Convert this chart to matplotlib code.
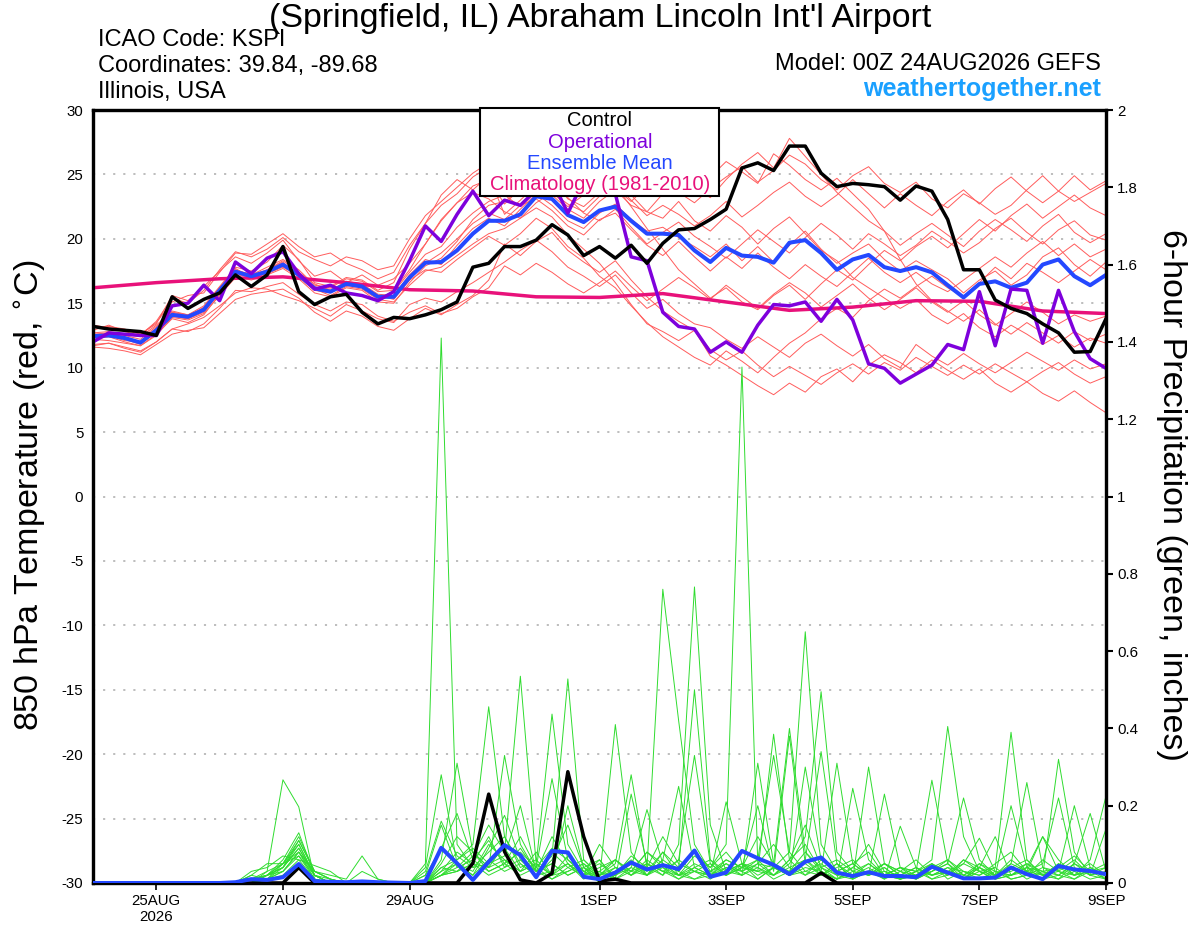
import matplotlib
matplotlib.use('Agg')
import matplotlib.pyplot as plt
import pandas as pd
from matplotlib.patches import Rectangle

plt.rcParams['font.family'] = ['Liberation Sans', 'DejaVu Sans']
plt.rcParams['axes.unicode_minus'] = False

# ---------------- data ----------------
times = pd.date_range('2026-08-24 00:00', periods=65, freq='6h')
clim_times = pd.date_range('2026-08-24 00:00', periods=17, freq='1D')

tick_dates = ['2026-08-25', '2026-08-27', '2026-08-29', '2026-09-01',
              '2026-09-03', '2026-09-05', '2026-09-07', '2026-09-09']
tick_labels = ['25AUG\n2026', '27AUG', '29AUG', '1SEP', '3SEP', '5SEP', '7SEP', '9SEP']
temp_ticks = [-30, -25, -20, -15, -10, -5, 0, 5, 10, 15, 20, 25, 30]
precip_ticks = [0, 0.2, 0.4, 0.6, 0.8, 1.0, 1.2, 1.4, 1.6, 1.8, 2.0]
precip_tick_labels = ['0', '0.2', '0.4', '0.6', '0.8', '1', '1.2', '1.4', '1.6', '1.8', '2']

control_temp = [13.2, 13.0, 12.9, 12.8, 12.5, 15.5, 14.6, 15.3, 15.8, 17.2, 16.3, 17.2, 19.4,
                15.9, 14.9, 15.5, 15.7, 14.3, 13.4, 13.9, 13.8, 14.1, 14.5, 15.1, 17.8, 18.1,
                19.4, 19.4, 19.9, 21.1, 20.3, 18.7, 19.4, 18.5, 19.5, 18.1, 19.65, 20.7, 20.8,
                21.5, 22.3, 25.5, 25.9, 25.3, 27.2, 27.2, 25.1, 24.05, 24.3, 24.2, 24.05, 23.0,
                24.1, 23.7, 21.5, 17.6, 17.6, 15.25, 14.6, 14.2, 13.4, 12.7, 11.2, 11.25, 13.8]
operational_temp = [12.0, 12.7, 12.6, 12.5, 12.5, 14.8, 15.0, 16.4, 15.2, 18.2, 17.3, 18.5, 19.0,
                    17.3, 16.1, 16.4, 15.8, 15.6, 15.2, 15.9, 18.3, 21.0, 19.8, 21.9, 23.7, 21.8,
                    23.0, 22.6, 23.8, 24.5, 22.0, 24.5, 24.0, 23.5, 18.6, 18.3, 14.3, 13.2, 13.0,
                    11.2, 12.0, 11.2, 13.3, 14.9, 14.8, 15.1, 13.6, 15.3, 13.7, 10.3, 9.95, 8.8,
                    9.5, 10.2, 11.8, 11.4, 15.9, 11.7, 16.1, 16.0, 11.9, 16.0, 12.8, 10.7, 9.95]
mean_temp = [12.45, 12.5, 12.3, 11.95, 12.9, 14.1, 13.95, 14.5, 16.0, 17.45, 17.1, 17.45, 18.0,
             17.2, 16.15, 15.9, 16.5, 16.3, 15.5, 15.5, 17.0, 18.15, 18.2, 19.1, 20.4, 21.4,
             21.4, 21.9, 23.3, 23.1, 21.85, 21.3, 22.2, 22.5, 21.4, 20.4, 20.4, 20.3, 19.1,
             18.2, 19.3, 18.7, 18.6, 18.15, 19.7, 19.9, 18.9, 17.6, 18.4, 18.75, 17.8, 17.5,
             17.8, 17.4, 16.4, 15.45, 16.5, 16.7, 16.2, 16.6, 18.0, 18.4, 17.1, 16.4, 17.2]
climatology_temp = [16.2, 16.6, 16.9, 17.05, 16.6, 16.05, 15.95, 15.5, 15.45, 15.75, 15.1,
                    14.45, 14.7, 15.2, 15.15, 14.4, 14.2]

red_m01 = [12.9, 13.3, 12.8, 12.5, 13.6, 15.4, 15.0, 16.0, 17.6, 19.0, 18.6, 19.2, 20.1,
           19.0, 18.4, 17.9, 18.6, 18.3, 17.6, 17.9, 20.0, 21.8, 22.9, 24.0, 25.1, 25.9,
           25.2, 24.6, 26.1, 25.4, 24.8, 23.9, 25.0, 25.6, 24.1, 23.5, 24.4, 23.6, 22.8,
           23.9, 24.8, 25.6, 24.4, 25.3, 26.5, 25.8, 24.6, 23.8, 24.9, 25.6, 24.3, 23.6,
           24.4, 23.1, 22.4, 23.5, 22.8, 21.9, 22.6, 23.8, 24.9, 23.7, 22.9, 23.6, 24.3]
red_m02 = [12.2, 12.4, 12.0, 11.7, 12.6, 13.8, 13.5, 14.1, 15.7, 17.1, 16.8, 17.2, 17.7,
           16.9, 15.8, 15.5, 16.2, 16.0, 15.1, 15.0, 16.6, 17.9, 18.5, 19.8, 21.5, 22.6,
           22.9, 23.8, 25.0, 24.6, 23.1, 22.5, 23.6, 24.8, 23.4, 22.1, 21.6, 22.9, 21.4,
           20.6, 21.8, 20.9, 19.6, 20.8, 21.7, 20.4, 19.1, 18.3, 17.0, 16.2, 15.4, 14.6,
           15.3, 14.1, 13.4, 14.2, 13.1, 12.4, 13.3, 12.6, 11.8, 12.5, 11.6, 12.3, 11.9]
red_m03 = [11.6, 11.5, 11.3, 11.0, 11.8, 12.6, 12.9, 13.1, 14.2, 15.3, 15.7, 15.9, 16.1,
           15.4, 14.3, 13.6, 14.4, 14.0, 13.2, 12.9, 13.8, 14.6, 14.1, 14.9, 15.6, 16.8,
           19.6, 18.7, 19.8, 20.5, 19.1, 18.2, 17.4, 18.3, 16.8, 15.5, 14.4, 13.6, 12.9,
           10.9, 10.2, 9.4, 8.6, 7.9, 8.8, 8.1, 9.3, 9.9, 8.9, 10.2, 11.0, 10.4,
           9.6, 10.6, 9.8, 9.1, 9.9, 8.8, 8.1, 8.9, 8.0, 7.4, 8.2, 7.3, 6.5]
red_m04 = [12.5, 12.7, 12.5, 12.2, 13.2, 14.3, 14.0, 14.7, 16.2, 17.7, 17.0, 17.6, 18.3,
           17.4, 16.5, 16.0, 16.7, 16.5, 15.7, 15.6, 17.2, 18.4, 18.0, 19.5, 20.8, 21.6,
           21.0, 22.3, 23.5, 22.6, 21.4, 20.8, 22.0, 22.7, 21.5, 20.6, 20.9, 20.1, 19.4,
           18.6, 19.6, 18.3, 19.4, 18.2, 19.5, 20.6, 19.2, 18.1, 18.9, 19.6, 18.4, 17.5,
           18.3, 17.6, 16.9, 15.8, 16.8, 17.5, 16.4, 17.2, 18.6, 19.3, 18.0, 17.1, 18.2]
red_m05 = [12.3, 12.6, 12.2, 11.8, 12.8, 14.0, 13.8, 14.3, 15.8, 17.3, 17.2, 17.6, 18.2,
           17.0, 16.0, 15.8, 16.6, 16.4, 15.6, 15.3, 16.8, 17.6, 17.4, 18.4, 19.3, 20.2,
           19.5, 20.4, 21.6, 20.8, 19.4, 18.5, 17.1, 16.2, 14.8, 13.5, 12.4, 11.6, 10.8,
           10.2, 11.3, 10.5, 9.6, 10.8, 11.9, 12.7, 13.8, 14.6, 13.9, 15.2, 16.1, 15.4,
           16.3, 17.1, 16.2, 15.5, 16.6, 17.8, 16.9, 18.1, 17.4, 16.6, 17.5, 18.4, 17.6]
red_m06 = [13.1, 13.2, 13.0, 12.6, 13.5, 15.1, 15.6, 15.8, 17.4, 18.9, 18.8, 19.6, 20.4,
           19.4, 18.6, 18.9, 18.1, 17.6, 16.9, 17.4, 19.5, 21.2, 23.4, 24.6, 23.8, 24.9,
           21.9, 23.0, 24.2, 23.4, 22.3, 21.6, 22.9, 23.8, 22.6, 22.1, 23.5, 24.6, 24.0,
           23.2, 24.6, 25.8, 26.7, 25.5, 27.8, 26.4, 25.0, 23.6, 22.5, 21.4, 20.6, 19.5,
           20.4, 21.2, 20.3, 19.4, 20.6, 21.5, 20.7, 19.8, 21.0, 21.9, 20.5, 19.7, 20.4]
red_m07 = [11.8, 11.9, 11.5, 11.2, 12.0, 13.0, 13.4, 13.9, 14.8, 15.8, 16.2, 16.1, 15.6,
           15.2, 14.6, 14.0, 14.9, 14.4, 13.8, 13.5, 14.9, 15.4, 15.1, 15.9, 16.6, 17.4,
           18.2, 19.1, 19.9, 19.0, 17.8, 17.1, 16.3, 17.2, 15.8, 14.6, 15.3, 14.2, 13.4,
           13.1, 12.2, 11.5, 12.4, 11.6, 10.8, 11.9, 12.6, 11.7, 10.9, 11.8, 10.7, 10.0,
           11.8, 10.9, 10.2, 11.1, 10.3, 9.6, 10.4, 11.2, 10.5, 9.8, 10.6, 9.9, 10.3]
red_m08 = [12.4, 12.5, 12.1, 12.0, 12.9, 14.2, 13.9, 14.6, 16.1, 17.5, 17.3, 17.3, 17.9,
           17.3, 16.2, 16.1, 16.4, 16.2, 15.4, 15.9, 17.4, 18.8, 19.4, 20.9, 22.0, 22.9,
           23.4, 22.5, 23.7, 24.5, 23.2, 22.0, 21.4, 22.3, 20.9, 19.6, 20.5, 21.3, 20.2,
           19.4, 18.5, 19.6, 20.7, 19.8, 18.9, 20.1, 21.2, 20.3, 19.2, 20.4, 19.6, 18.7,
           19.5, 20.6, 19.8, 18.9, 19.7, 20.8, 21.6, 20.5, 19.6, 20.7, 21.4, 20.3, 19.9]
red_m09 = [12.7, 12.8, 12.6, 12.4, 13.3, 14.4, 14.1, 14.8, 16.3, 17.8, 17.5, 18.2, 19.5,
           18.4, 16.6, 16.3, 17.0, 16.8, 16.0, 16.6, 19.2, 21.2, 22.6, 23.5, 24.8, 25.6,
           26.4, 25.7, 27.0, 28.2, 27.1, 26.2, 25.0, 24.1, 22.5, 20.8, 19.2, 17.6, 16.5,
           15.4, 16.2, 15.1, 14.5, 15.6, 16.4, 15.3, 16.5, 17.6, 16.8, 18.0, 19.1, 18.3,
           19.4, 20.2, 19.3, 20.4, 21.5, 20.6, 21.8, 22.7, 21.6, 22.5, 23.4, 22.4, 21.8]
red_m10 = [12.2, 12.1, 11.9, 11.7, 12.5, 13.9, 13.7, 14.2, 15.6, 17.0, 16.9, 17.3, 17.8,
           17.1, 16.1, 15.6, 16.3, 16.1, 15.3, 15.1, 16.4, 17.5, 17.8, 18.7, 19.6, 20.4,
           20.8, 21.6, 22.4, 21.7, 20.3, 19.2, 18.1, 16.6, 14.9, 13.4, 12.8, 12.1, 12.9,
           11.4, 10.6, 11.3, 10.2, 9.3, 10.1, 9.4, 8.7, 9.6, 10.3, 9.5, 10.4, 9.8,
           10.8, 10.1, 9.4, 10.2, 9.5, 10.3, 9.6, 8.9, 9.7, 10.4, 9.5, 8.8, 9.3]
red_m11 = [13.3, 13.1, 12.9, 12.6, 13.4, 15.6, 15.2, 16.3, 17.5, 18.6, 18.1, 18.9, 19.9,
           18.3, 17.1, 17.5, 16.6, 17.2, 16.4, 16.9, 18.1, 19.6, 21.5, 22.8, 23.6, 23.1,
           22.1, 21.6, 22.8, 23.6, 22.5, 23.4, 24.6, 23.9, 22.9, 24.1, 25.3, 26.4, 25.6,
           24.8, 26.0, 25.2, 24.3, 26.6, 25.7, 24.6, 23.8, 24.7, 23.5, 22.3, 20.6, 18.4,
           16.5, 15.2, 14.4, 13.6, 14.5, 13.4, 12.6, 13.5, 12.7, 11.9, 12.8, 12.1, 12.6]
red_m12 = [12.5, 12.4, 12.3, 11.9, 12.7, 14.0, 13.8, 14.4, 15.9, 17.2, 17.1, 17.5, 18.1,
           17.2, 16.3, 15.9, 16.5, 16.3, 15.5, 15.4, 16.9, 18.1, 18.9, 20.0, 21.2, 22.0,
           21.5, 22.6, 23.1, 22.2, 21.0, 20.3, 21.5, 22.0, 20.7, 19.5, 18.7, 19.8, 18.6,
           17.5, 18.6, 17.7, 18.9, 17.8, 16.9, 18.0, 17.1, 16.3, 17.4, 18.5, 17.4, 16.6,
           17.4, 16.5, 15.9, 16.8, 17.7, 18.6, 17.8, 18.9, 19.8, 18.7, 19.6, 18.6, 19.2]
red_m13 = [12.6, 12.7, 12.4, 12.0, 13.1, 14.3, 14.1, 14.6, 16.2, 17.6, 17.2, 17.8, 18.4,
           17.6, 16.4, 16.2, 16.9, 16.7, 15.9, 16.0, 17.6, 19.6, 21.4, 22.8, 24.1, 24.6,
           22.7, 23.9, 24.8, 23.6, 22.7, 22.1, 23.3, 24.2, 23.0, 21.8, 22.6, 21.9, 21.0,
           21.8, 22.9, 21.7, 22.6, 23.6, 24.4, 23.3, 22.5, 23.4, 24.6, 23.5, 22.4, 23.5,
           22.6, 21.8, 22.9, 23.8, 22.7, 23.9, 24.8, 23.7, 22.8, 23.7, 24.9, 23.8, 24.5]
red_m14 = [11.7, 11.9, 11.6, 11.3, 12.0, 13.0, 12.8, 13.4, 14.6, 16.0, 15.9, 16.3, 16.6,
           15.7, 14.9, 14.4, 15.1, 14.9, 14.0, 13.6, 14.3, 14.8, 14.2, 14.6, 15.5, 16.2,
           17.9, 17.2, 18.1, 17.4, 16.5, 15.8, 16.6, 17.5, 16.3, 15.2, 16.1, 17.0, 16.2,
           15.3, 16.4, 15.5, 14.6, 15.7, 16.6, 15.8, 14.7, 15.6, 16.5, 15.4, 14.5, 15.3,
           16.2, 15.1, 14.3, 15.2, 14.1, 13.3, 14.2, 15.1, 14.3, 13.4, 14.1, 13.6, 14.0]

control_precip = [0, 0, 0, 0, 0, 0, 0, 0, 0, 0, 0, 0, 0,
                  0.04, 0, 0, 0, 0, 0, 0, 0, 0, 0, 0, 0.051, 0.23,
                  0.081, 0.008, 0, 0.025, 0.288, 0.12, 0.005, 0.01, 0, 0, 0, 0, 0,
                  0, 0, 0, 0, 0, 0, 0, 0.026, 0, 0, 0, 0, 0,
                  0, 0, 0, 0, 0, 0, 0, 0, 0, 0, 0, 0, 0]
mean_precip = [0, 0, 0, 0, 0, 0, 0, 0, 0, 0.002, 0.01, 0.008, 0.015,
               0.049, 0.005, 0.003, 0.002, 0.004, 0.002, 0.001, 0, 0.005, 0.091, 0.051, 0.008, 0.055,
               0.098, 0.072, 0.015, 0.083, 0.079, 0.016, 0.01, 0.027, 0.053, 0.035, 0.046, 0.036, 0.084,
               0.016, 0.027, 0.083, 0.064, 0.047, 0.023, 0.055, 0.066, 0.027, 0.018, 0.028, 0.018, 0.018,
               0.015, 0.042, 0.027, 0.012, 0.012, 0.014, 0.04, 0.023, 0.01, 0.044, 0.035, 0.031, 0.023]

green_m01 = [0, 0, 0, 0, 0, 0, 0, 0, 0, 0, 0.01, 0.02, 0.04,
             0.09, 0.02, 0, 0, 0, 0, 0, 0, 0.05, 1.41, 0.10, 0.04, 0.08,
             0.12, 0.05, 0.02, 0.06, 0.15, 0.04, 0, 0.02, 0.05, 0.03, 0.08, 0.02, 0.01,
             0.03, 0.02, 0.05, 0.04, 0.02, 0.06, 0.10, 0.03, 0.01, 0.02, 0.05, 0.02, 0.01,
             0.03, 0.06, 0.405, 0.12, 0.03, 0.01, 0.02, 0.04, 0.02, 0.05, 0.03, 0.01, 0.02]
green_m02 = [0, 0, 0, 0, 0, 0, 0, 0, 0, 0, 0.02, 0.01, 0.05,
             0.12, 0.03, 0.01, 0, 0, 0, 0, 0, 0, 0.04, 0.06, 0.09, 0.05,
             0.07, 0.20, 0.03, 0.01, 0.04, 0.02, 0.06, 0.01, 0.03, 0.02, 0.05, 0.03, 0.08,
             0.04, 0.10, 1.335, 0.05, 0.02, 0.06, 0.15, 0.04, 0.02, 0.01, 0.03, 0.05, 0.02,
             0.01, 0.03, 0.06, 0.02, 0.04, 0.01, 0.05, 0.03, 0.02, 0.32, 0.08, 0.02, 0.04]
green_m03 = [0, 0, 0, 0, 0, 0, 0, 0, 0, 0, 0, 0.03, 0.267,
             0.197, 0.01, 0, 0, 0, 0, 0, 0, 0, 0.02, 0.05, 0.03, 0.10,
             0.06, 0.03, 0.08, 0.02, 0.05, 0.01, 0.03, 0.06, 0.02, 0.04, 0.76, 0.42, 0.10,
             0.03, 0.05, 0.02, 0.04, 0.01, 0.03, 0.06, 0.02, 0.05, 0.01, 0.30, 0.05, 0.02,
             0.04, 0.02, 0.03, 0.01, 0.05, 0.02, 0.04, 0.06, 0.02, 0.01, 0.03, 0.05, 0.02]
green_m04 = [0, 0, 0, 0, 0, 0, 0, 0, 0, 0, 0.01, 0.02, 0.06,
             0.13, 0.02, 0, 0, 0, 0, 0, 0, 0, 0.03, 0.08, 0.05, 0.12,
             0.04, 0.09, 0.03, 0.07, 0.528, 0.06, 0.02, 0.04, 0.03, 0.05, 0.02, 0.10, 0.766,
             0.15, 0.03, 0.05, 0.02, 0.04, 0.08, 0.65, 0.10, 0.03, 0.02, 0.04, 0.01, 0.03,
             0.02, 0.05, 0.01, 0.03, 0.02, 0.04, 0.39, 0.06, 0.02, 0.03, 0.01, 0.04, 0.02]
green_m05 = [0, 0, 0, 0, 0, 0, 0, 0, 0, 0, 0, 0.02, 0.05,
             0.10, 0.02, 0, 0, 0, 0, 0, 0, 0, 0.04, 0.03, 0.07, 0.15,
             0.08, 0.535, 0.05, 0.437, 0.10, 0.03, 0.01, 0.02, 0.04, 0.02, 0.06, 0.03, 0.01,
             0.02, 0.04, 0.03, 0.06, 0.02, 0.05, 0.12, 0.495, 0.08, 0.03, 0.02, 0.04, 0.01,
             0.03, 0.266, 0.05, 0.02, 0.01, 0.03, 0.02, 0.04, 0.01, 0.02, 0.05, 0.03, 0.01]
green_m06 = [0, 0, 0, 0, 0, 0, 0, 0, 0, 0, 0, 0.01, 0.03,
             0.08, 0.03, 0.02, 0.01, 0.07, 0.01, 0, 0, 0, 0.02, 0.06, 0.10, 0.456,
             0.12, 0.04, 0.06, 0.02, 0.03, 0.05, 0.01, 0.41, 0.08, 0.02, 0.04, 0.01, 0.03,
             0.05, 0.02, 0.04, 0.03, 0.385, 0.06, 0.02, 0.04, 0.01, 0.03, 0.05, 0.02, 0.01,
             0.03, 0.02, 0.04, 0.01, 0.03, 0.02, 0.05, 0.26, 0.04, 0.02, 0.01, 0.03, 0.02]
green_m07 = [0, 0, 0, 0, 0, 0, 0, 0, 0, 0, 0.01, 0.02, 0.04,
             0.11, 0.03, 0.01, 0, 0, 0, 0, 0, 0, 0.06, 0.31, 0.08, 0.04,
             0.33, 0.10, 0.03, 0.05, 0.02, 0.04, 0.01, 0.03, 0.06, 0.02, 0.08, 0.04, 0.50,
             0.06, 0.02, 0.04, 0.03, 0.05, 0.40, 0.08, 0.03, 0.01, 0.04, 0.02, 0.05, 0.03,
             0.01, 0.04, 0.02, 0.06, 0.03, 0.01, 0.02, 0.05, 0.03, 0.04, 0.02, 0.06, 0.225]
green_m08 = [0, 0, 0, 0, 0, 0, 0, 0, 0, 0, 0, 0.01, 0.03,
             0.07, 0.01, 0, 0, 0, 0, 0, 0, 0.04, 0.28, 0.05, 0.02, 0.06,
             0.03, 0.05, 0.02, 0.08, 0.04, 0.06, 0.02, 0.05, 0.28, 0.04, 0.02, 0.06, 0.03,
             0.01, 0.04, 0.02, 0.31, 0.05, 0.02, 0.04, 0.03, 0.01, 0.245, 0.06, 0.02, 0.04,
             0.03, 0.01, 0.02, 0.05, 0.03, 0.04, 0.01, 0.02, 0.06, 0.03, 0.20, 0.04, 0.02]
green_m09 = [0, 0, 0, 0, 0, 0, 0, 0, 0, 0, 0, 0.01, 0.04,
             0.09, 0.02, 0, 0, 0, 0, 0, 0, 0, 0.02, 0.04, 0.06, 0.03,
             0.05, 0.08, 0.04, 0.27, 0.06, 0.02, 0.03, 0.01, 0.04, 0.19, 0.05, 0.02, 0.03,
             0.02, 0.05, 0.03, 0.01, 0.04, 0.02, 0.06, 0.03, 0.31, 0.05, 0.02, 0.04, 0.01,
             0.02, 0.03, 0.05, 0.01, 0.04, 0.12, 0.02, 0.03, 0.01, 0.05, 0.02, 0.03, 0.04]
green_m10 = [0, 0, 0, 0, 0, 0, 0, 0, 0, 0, 0, 0.02, 0.03,
             0.08, 0.01, 0, 0, 0, 0, 0, 0, 0, 0.03, 0.05, 0.02, 0.09,
             0.175, 0.06, 0.03, 0.05, 0.02, 0.04, 0.06, 0.01, 0.23, 0.05, 0.03, 0.02, 0.04,
             0.06, 0.03, 0.02, 0.05, 0.04, 0.02, 0.30, 0.06, 0.03, 0.05, 0.02, 0.23, 0.04,
             0.02, 0.05, 0.03, 0.01, 0.04, 0.02, 0.06, 0.03, 0.05, 0.22, 0.04, 0.02, 0.01]
green_m11 = [0, 0, 0, 0, 0, 0, 0, 0, 0, 0, 0, 0.01, 0.02,
             0.06, 0.01, 0, 0, 0, 0, 0, 0, 0.03, 0.16, 0.07, 0.04, 0.05,
             0.09, 0.03, 0.05, 0.02, 0.07, 0.03, 0.01, 0.04, 0.02, 0.05, 0.03, 0.06, 0.33,
             0.05, 0.02, 0.04, 0.06, 0.33, 0.08, 0.03, 0.02, 0.05, 0.01, 0.03, 0.02, 0.04,
             0.01, 0.03, 0.05, 0.22, 0.06, 0.02, 0.04, 0.01, 0.03, 0.02, 0.05, 0.18, 0.03]
green_m12 = [0, 0, 0, 0, 0, 0, 0, 0, 0, 0, 0, 0.02, 0.05,
             0.07, 0.02, 0.01, 0, 0.03, 0.01, 0, 0, 0, 0.02, 0.03, 0.05, 0.02,
             0.04, 0.06, 0.02, 0.03, 0.05, 0.02, 0.10, 0.04, 0.02, 0.06, 0.03, 0.01, 0.04,
             0.02, 0.21, 0.05, 0.03, 0.02, 0.04, 0.06, 0.34, 0.05, 0.02, 0.03, 0.01, 0.147,
             0.04, 0.02, 0.03, 0.05, 0.116, 0.03, 0.01, 0.02, 0.04, 0.03, 0.06, 0.02, 0.14]
green_m13 = [0, 0, 0, 0, 0, 0, 0, 0, 0, 0, 0.02, 0.05, 0.05,
             0.11, 0.03, 0.01, 0, 0, 0, 0, 0, 0.02, 0.15, 0.04, 0.08, 0.03,
             0.05, 0.02, 0.04, 0.01, 0.03, 0.05, 0.02, 0.06, 0.03, 0.08, 0.04, 0.02, 0.05,
             0.03, 0.06, 0.04, 0.20, 0.03, 0.38, 0.05, 0.02, 0.04, 0.06, 0.02, 0.03, 0.01,
             0.02, 0.04, 0.06, 0.03, 0.01, 0.02, 0.20, 0.04, 0.03, 0.01, 0.05, 0.02, 0.03]
green_m14 = [0, 0, 0, 0, 0, 0, 0, 0, 0, 0, 0.03, 0.04, 0.07,
             0.06, 0.045, 0.03, 0, 0, 0, 0, 0, 0, 0.02, 0.03, 0.05, 0.04,
             0.06, 0.03, 0.05, 0.02, 0.20, 0.04, 0.02, 0.03, 0.05, 0.02, 0.06, 0.25, 0.04,
             0.02, 0.03, 0.05, 0.01, 0.04, 0.02, 0.03, 0.05, 0.02, 0.04, 0.10, 0.03, 0.02,
             0.04, 0.01, 0.03, 0.02, 0.05, 0.03, 0.02, 0.04, 0.12, 0.03, 0.02, 0.04, 0.01]
green_m15 = [0, 0, 0, 0, 0, 0, 0, 0, 0, 0, 0.01, 0.03, 0.05,
             0.08, 0.02, 0, 0, 0, 0, 0, 0, 0.02, 0.09, 0.18, 0.06, 0.11,
             0.05, 0.12, 0.04, 0.09, 0.06, 0.03, 0.05, 0.02, 0.07, 0.04, 0.12, 0.05, 0.03,
             0.02, 0.06, 0.04, 0.12, 0.05, 0.03, 0.08, 0.04, 0.06, 0.03, 0.02, 0.05, 0.03,
             0.06, 0.02, 0.04, 0.03, 0.02, 0.05, 0.08, 0.03, 0.12, 0.06, 0.02, 0.03, 0.05]
green_m16 = [0, 0, 0, 0, 0, 0, 0, 0, 0, 0, 0, 0.02, 0.04,
             0.10, 0.02, 0, 0, 0, 0, 0, 0, 0, 0.05, 0.12, 0.08, 0.04,
             0.10, 0.07, 0.03, 0.12, 0.05, 0.02, 0.04, 0.06, 0.03, 0.08, 0.05, 0.02, 0.07,
             0.04, 0.08, 0.03, 0.05, 0.10, 0.04, 0.02, 0.06, 0.03, 0.05, 0.08, 0.02, 0.04,
             0.03, 0.05, 0.02, 0.06, 0.04, 0.02, 0.03, 0.05, 0.02, 0.04, 0.07, 0.03, 0.02]

red_members = [red_m01, red_m02, red_m03, red_m04, red_m05, red_m06, red_m07,
               red_m08, red_m09, red_m10, red_m11, red_m12, red_m13, red_m14]
green_members = [green_m01, green_m02, green_m03, green_m04, green_m05, green_m06, green_m07,
                 green_m08, green_m09, green_m10, green_m11, green_m12, green_m13, green_m14,
                 green_m15, green_m16]

bad = [(k, len(s)) for k, s in enumerate(red_members + green_members +
                                          [control_temp, operational_temp, mean_temp,
                                           control_precip, mean_precip]) if len(s) != 65]
if bad:
    raise SystemExit('bad lengths: %s' % bad)

# ---------------- colours ----------------
C_RED = '#FF5C5C'
C_GREEN = '#2FDC2F'
C_OPER = '#7E00DC'
C_MEAN = '#2448FF'
C_CLIM = '#E8117A'
C_WEB = '#1AA0FF'

# ---------------- figure ----------------
W, H = 1200, 927
fig = plt.figure(figsize=(W / 100, H / 100), dpi=100)
L, R, T, B = 93, 1106, 110, 883
ax = fig.add_axes([L / W, 1 - B / H, (R - L) / W, (B - T) / H])
ax2 = ax.twinx()

for m in red_members:
    ax.plot(times, m, color=C_RED, lw=0.7, zorder=2)
ax.plot(clim_times, climatology_temp, color=C_CLIM, lw=2.5, zorder=3, solid_capstyle='butt')
ax.plot(times, mean_temp, color=C_MEAN, lw=2.9, zorder=4)
ax.plot(times, operational_temp, color=C_OPER, lw=2.5, zorder=5)
ax.plot(times, control_temp, color='black', lw=2.5, zorder=6)

for m in green_members:
    ax2.plot(times, m, color=C_GREEN, lw=0.7, zorder=2)
ax2.plot(times, control_precip, color='black', lw=2.5, zorder=4)
ax2.plot(times, mean_precip, color=C_MEAN, lw=2.9, zorder=5)

ax.set_xlim(times[0], times[-1])
ax.set_ylim(-30, 30)
ax2.set_ylim(0, 2)

ax.set_yticks(temp_ticks)
ax.set_yticklabels([str(t) for t in temp_ticks])
ax2.set_yticks(precip_ticks)
ax2.set_yticklabels(precip_tick_labels)
ax.set_xticks(pd.to_datetime(tick_dates))
ax.set_xticklabels(tick_labels)

ax.yaxis.grid(True, color='#ababab', linestyle=(0, (1.4, 5.2)), lw=1.1, zorder=0)
ax.set_axisbelow(True)

ax.tick_params(axis='y', length=0, pad=7, labelsize=10.8)
ax.tick_params(axis='x', length=5, width=1.2, direction='out', pad=3, labelsize=10.8)
ax2.tick_params(axis='y', length=5, width=1.5, direction='out', pad=3, labelsize=10.8)

for a in (ax, ax2):
    for s in a.spines.values():
        s.set_linewidth(2.3)
        s.set_color('black')

# axis labels
fig.text(31 / W, 1 - 495 / H, r'850 hPa Temperature (red, $^{\circ}$C)', rotation=90,
         ha='center', va='center', fontsize=24.5)
fig.text(1172 / W, 1 - 495 / H, '6-hour Precipitation (green, inches)', rotation=270,
         ha='center', va='center', fontsize=24.5)

# header
fig.text(600 / W, 1 - 19 / H, "(Springfield, IL) Abraham Lincoln Int'l Airport",
         ha='center', va='center', fontsize=24.5)
fig.text(98 / W, 1 - 46 / H, 'ICAO Code: KSPI', ha='left', va='baseline', fontsize=17)
fig.text(98 / W, 1 - 72 / H, 'Coordinates: 39.84, -89.68', ha='left', va='baseline', fontsize=17)
fig.text(98 / W, 1 - 98 / H, 'Illinois, USA', ha='left', va='baseline', fontsize=17)
fig.text(1101 / W, 1 - 70 / H, 'Model: 00Z 24AUG2026 GEFS', ha='right', va='baseline', fontsize=17)
fig.text(1101 / W, 1 - 96 / H, 'weathertogether.net', ha='right', va='baseline',
         fontsize=18, fontweight='bold', color=C_WEB)

# legend box
box = Rectangle((480 / W, 1 - 196 / H), 239 / W, 88 / H, transform=fig.transFigure,
                facecolor='white', edgecolor='black', lw=1.5, zorder=10)
fig.add_artist(box)
legend_items = [('Control', 'black'), ('Operational', C_OPER),
                ('Ensemble Mean', C_MEAN), ('Climatology (1981-2010)', C_CLIM)]
for k, (txt, col) in enumerate(legend_items):
    fig.text(600 / W, 1 - (121 + 21.3 * k) / H, txt, ha='center', va='center',
             fontsize=14.5, color=col, zorder=11)

fig.savefig('out.png', dpi=100)
